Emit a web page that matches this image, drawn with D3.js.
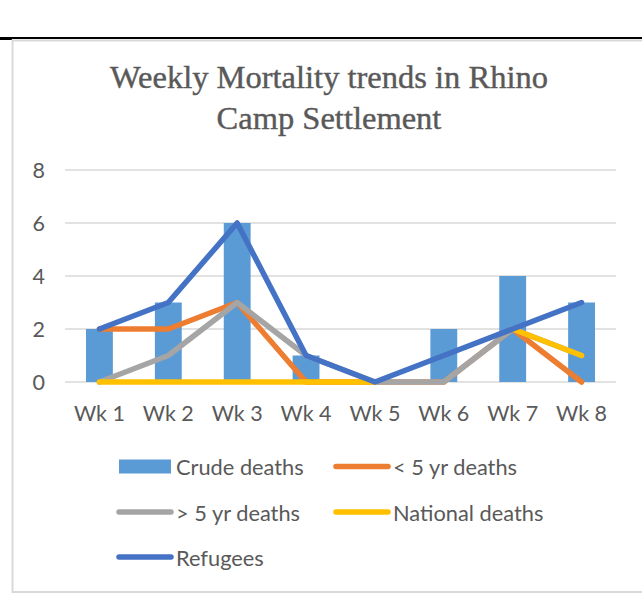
<!DOCTYPE html>
<html>
<head>
<meta charset="utf-8">
<script src="https://cdn.jsdelivr.net/npm/d3@7"></script>
<style>
	body { margin: 0; background: #fff; }
	svg { display: block; }
	.tick-label { font-family: Lato, 'Noto Sans', sans-serif; font-size: 21.5px; fill: #595959; }
	.legend-label { font-family: Lato, 'Noto Sans', sans-serif; font-size: 21.8px; fill: #595959; }
	.title { font-family: 'Goudy Old Style', 'Liberation Serif', serif; font-size: 32.5px; fill: #595959; stroke: #595959; stroke-width: 0.4px; }
</style>
</head>
<body>
<div class="container"></div>
<script>
const width = 642, height = 601;

const weeks = ['Wk 1', 'Wk 2', 'Wk 3', 'Wk 4', 'Wk 5', 'Wk 6', 'Wk 7', 'Wk 8'];
const crude = [2, 3, 6, 1, 0, 2, 4, 3];
const under5 = [2, 2, 3, 0, 0, 0, 2, 0];
const over5 = [0, 1, 3, 1, 0, 0, 2, 1];
const national = [0, 0, 0, 0, 0, null, 2, 1];
const refugees = [2, 3, 6, 1, 0, 1, 2, 3];
const yTicks = [0, 2, 4, 6, 8];
const titleLines = ['Weekly Mortality trends in Rhino', 'Camp Settlement'];

const lineSeries = [
	{name: '< 5 yr deaths', values: under5, color: '#ED7D31'},
	{name: '> 5 yr deaths', values: over5, color: '#A5A5A5'},
	{name: 'National deaths', values: national, color: '#FFC000'},
	{name: 'Refugees', values: refugees, color: '#4472C4'}
];
const barColor = '#5B9BD5';

const plot = {left: 65, right: 616, top: 170, bottom: 382};

const x = d3.scaleBand().domain(weeks).range([plot.left, plot.right]);
const y = d3.scaleLinear().domain([0, 8]).range([plot.bottom, plot.top]);
const cx = w => x(w) + x.bandwidth() / 2;

const svg = d3.select('.container').append('svg')
	.attr('width', width)
	.attr('height', height);

// page rule above the chart
svg.append('line')
	.attr('x1', 0).attr('x2', width)
	.attr('y1', 38).attr('y2', 38)
	.attr('stroke', '#000').attr('stroke-width', 2);
svg.append('rect')
	.attr('x', 0).attr('y', 37).attr('width', 12).attr('height', 3)
	.attr('fill', '#000');

// chart frame
svg.append('rect')
	.attr('x', 12.5).attr('y', 40.5)
	.attr('width', 660).attr('height', 551.5)
	.attr('fill', 'none')
	.attr('stroke', '#D9D9D9').attr('stroke-width', 2);

// title
svg.append('text')
	.attr('class', 'title')
	.attr('text-anchor', 'middle')
	.selectAll('tspan')
	.data(titleLines)
	.join('tspan')
	.attr('x', 329)
	.attr('y', (d, i) => 88 + i * 41)
	.text(d => d);

// gridlines
svg.append('g')
	.selectAll('line')
	.data(yTicks)
	.join('line')
	.attr('x1', plot.left).attr('x2', plot.right)
	.attr('y1', d => y(d)).attr('y2', d => y(d))
	.attr('stroke', '#D9D9D9').attr('stroke-width', 1.5);

// y labels
svg.append('g')
	.selectAll('text')
	.data(yTicks)
	.join('text')
	.attr('class', 'tick-label')
	.attr('text-anchor', 'end')
	.attr('dominant-baseline', 'central')
	.attr('x', 45)
	.attr('y', d => y(d))
	.text(d => d);

// x labels
svg.append('g')
	.selectAll('text')
	.data(weeks)
	.join('text')
	.attr('class', 'tick-label')
	.attr('text-anchor', 'middle')
	.attr('x', d => cx(d))
	.attr('y', 421)
	.text(d => d);

// bars
const barW = x.bandwidth() * 0.39;
svg.append('g')
	.attr('fill', barColor)
	.selectAll('rect')
	.data(crude)
	.join('rect')
	.attr('x', (d, i) => cx(weeks[i]) - barW / 2)
	.attr('y', d => y(d))
	.attr('width', barW)
	.attr('height', d => y(0) - y(d));

// lines
const line = d3.line()
	.defined(d => d[1] !== null)
	.x(d => cx(d[0]))
	.y(d => y(d[1]));

svg.append('g')
	.selectAll('path')
	.data(lineSeries)
	.join('path')
	.attr('fill', 'none')
	.attr('stroke', d => d.color)
	.attr('stroke-width', 5.5)
	.attr('stroke-linecap', 'round')
	.attr('stroke-linejoin', 'round')
	.attr('d', d => line(weeks.map((w, i) => [w, d.values[i]])));

// legend
const legendItems = [
	{name: 'Crude deaths', color: barColor, bar: true, col: 0, row: 0},
	{name: lineSeries[0].name, color: lineSeries[0].color, col: 1, row: 0},
	{name: lineSeries[1].name, color: lineSeries[1].color, col: 0, row: 1},
	{name: lineSeries[2].name, color: lineSeries[2].color, col: 1, row: 1},
	{name: lineSeries[3].name, color: lineSeries[3].color, col: 0, row: 2}
];
const colX = [119, 336];
const rowY = [466.5, 512, 557];

const lg = svg.append('g')
	.selectAll('g')
	.data(legendItems)
	.join('g')
	.attr('transform', d => 'translate(' + colX[d.col] + ',' + rowY[d.row] + ')');

lg.filter(d => d.bar).append('rect')
	.attr('x', 0).attr('y', -7)
	.attr('width', 52).attr('height', 14)
	.attr('fill', d => d.color);

lg.filter(d => !d.bar).append('line')
	.attr('x1', 0).attr('x2', 52)
	.attr('stroke', d => d.color)
	.attr('stroke-width', 5.5)
	.attr('stroke-linecap', 'round');

lg.append('text')
	.attr('class', 'legend-label')
	.attr('x', 57)
	.attr('dominant-baseline', 'central')
	.text(d => d.name);
</script>
</body>
</html>
